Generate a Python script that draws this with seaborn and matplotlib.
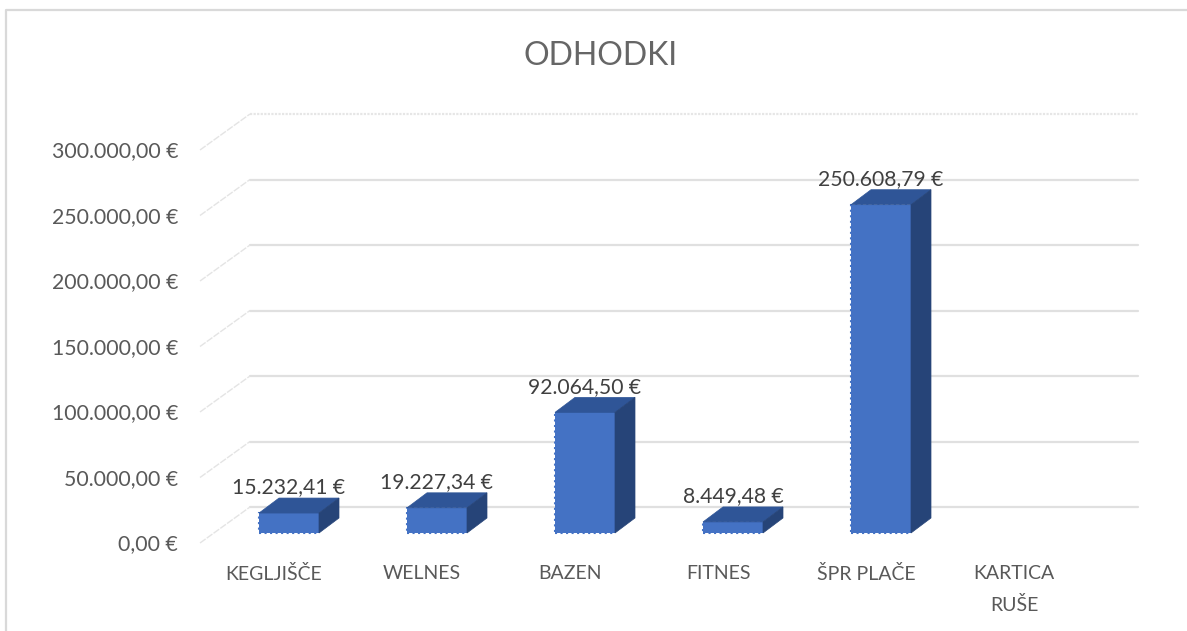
import matplotlib
matplotlib.use("Agg")
import matplotlib.pyplot as plt
import seaborn as sns

# data
categories = ["KEGLJIŠČE", "WELNES", "BAZEN", "FITNES", "ŠPR PLAČE", "KARTICA\nRUŠE"]
values = [15232.41, 19227.34, 92064.50, 8449.48, 250608.79, 0]
value_labels = ["15.232,41 €", "19.227,34 €", "92.064,50 €", "8.449,48 €", "250.608,79 €", None]
y_ticks = [0, 50000, 100000, 150000, 200000, 250000, 300000]
y_tick_labels = ["0,00 €", "50.000,00 €", "100.000,00 €", "150.000,00 €",
                 "200.000,00 €", "250.000,00 €", "300.000,00 €"]

W, H = 1187, 631
SPACING = 148          # px between categories
X0_PX, BASE_PX = 289, 533   # first bar centre and bar base
PX_PER_UNIT = 65.5 / 50000

sns.set_theme(style="white")
plt.rcParams["font.family"] = ["Lato", "DejaVu Sans"]

fig = plt.figure(figsize=(W / 100, H / 100), dpi=100, facecolor="white")
ax = fig.add_axes([0, 0, 1, 1])

# helpers for the fake 3D depth, in pixels on the screen
def dx(px):
    return px / SPACING

def dy(px):
    return px / PX_PER_UNIT

FRONT = "#4472c4"
TOP = "#2f5597"
SIDE = "#264478"
GRID = "#e0e0e0"
TEXT = "#595959"
BAR_W = 60 / SPACING

# back wall and left floor lines
wall_left = dx(250 - X0_PX)
wall_right = dx(1138 - X0_PX)
front_left = dx(200 - X0_PX)
for v, tick_label in zip(y_ticks, y_tick_labels):
    wall_y = v + dy(BASE_PX - 507)
    plane_y = v + dy(BASE_PX - 543)
    top_line = v == y_ticks[-1]
    ax.plot([wall_left, wall_right], [wall_y, wall_y], color="#e6e6e6" if top_line else GRID,
            lw=1.6, ls=(0, (1, 0.6)) if top_line else "-", zorder=0)
    ax.plot([front_left, wall_left], [plane_y, wall_y], color="#e4e4e4", lw=1.0, ls=(0, (5, 1)), zorder=0)
    ax.text(dx(178 - X0_PX), plane_y - dy(1.5), tick_label, ha="right", va="center",
            fontsize=15.3, color=TEXT)

# front faces
sns.barplot(x=categories, y=values, color=FRONT, saturation=1, width=BAR_W, ax=ax,
            edgecolor=FRONT, linewidth=1.5, linestyle=":", zorder=3)
for patch, v in zip(ax.patches, values):
    patch.set_visible(v > 0)

# top and side faces, then value labels
for i, (v, lab) in enumerate(zip(values, value_labels)):
    if lab is None:
        continue
    l, r = i - BAR_W / 2, i + BAR_W / 2
    ox, oy = dx(20), dy(15)
    ax.fill([l, r, r + ox, l + ox], [v, v, v + oy, v + oy], color=TOP, lw=0.5, zorder=3)
    ax.fill([r, r + ox, r + ox, r], [0, oy, v + oy, v], color=SIDE, lw=0.5, zorder=3)
    ax.text(i, v + oy + dy(10.5), lab, ha="center", va="center", fontsize=15.2, color="#404040", zorder=4)

# category labels
for i, c in enumerate(categories):
    ax.text(i - dx(15), -dy(565 - BASE_PX), c, ha="center", va="top",
            fontsize=14, color=TEXT, linespacing=1.95)

ax.text(dx(601 - X0_PX), dy(BASE_PX - 56), "ODHODKI", ha="center", va="center", fontsize=23,
        color="#666666")

# chart frame
frame_x = [dx(6 - X0_PX), dx(6 - X0_PX), dx(1187 - X0_PX)]
frame_y = [-dy(H - BASE_PX), dy(BASE_PX - 10), dy(BASE_PX - 10)]
ax.plot(frame_x, frame_y, color="#d9d9d9", lw=1.6, zorder=0)

ax.set_xlim(-X0_PX / SPACING, (W - X0_PX) / SPACING)
ax.set_ylim(-dy(H - BASE_PX), dy(BASE_PX))
ax.set_axis_off()

plt.savefig("out.png", dpi=100)
plt.close()
